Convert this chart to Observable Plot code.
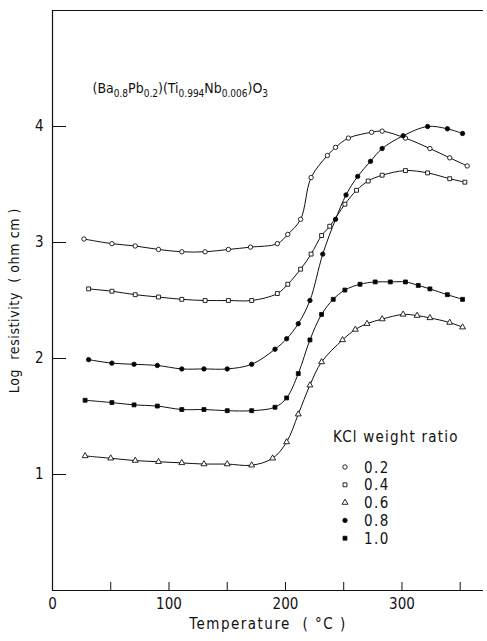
<!DOCTYPE html>
<html><head><meta charset="utf-8">
<script src="https://cdn.jsdelivr.net/npm/d3@7"></script>
<script src="https://cdn.jsdelivr.net/npm/@observablehq/plot@0.6"></script>
<style>
html,body{margin:0;padding:0;background:#fff;}
#chart svg{display:block;}
</style></head><body><div id="chart"></div>
<script>
// KCl weight ratios (legend)
const ratios = ["0.2", "0.4", "0.6", "0.8", "1.0"];

// Temperature (°C) and log resistivity for each KCl ratio
const t02 = [27, 51, 71, 91, 111, 131, 151, 170, 193, 202, 213, 222, 236, 243, 254, 274, 283, 303, 324, 341, 356];
const v02 = [3.03, 2.99, 2.97, 2.94, 2.92, 2.92, 2.94, 2.96, 2.99, 3.07, 3.20, 3.56, 3.75, 3.82, 3.90, 3.95, 3.96, 3.90, 3.81, 3.73, 3.66];

const t04 = [31, 51, 71, 91, 111, 131, 151, 171, 193, 202, 213, 222, 231, 238, 251, 261, 271, 283, 303, 322, 341, 354];
const v04 = [2.60, 2.58, 2.55, 2.53, 2.51, 2.50, 2.50, 2.50, 2.56, 2.64, 2.77, 2.90, 3.06, 3.14, 3.33, 3.45, 3.53, 3.58, 3.62, 3.60, 3.55, 3.52];

const t06 = [28, 50, 71, 91, 111, 130, 150, 171, 189, 201, 211, 221, 231, 249, 260, 270, 283, 301, 313, 324, 341, 352];
const v06 = [1.16, 1.14, 1.12, 1.11, 1.10, 1.09, 1.09, 1.08, 1.14, 1.28, 1.52, 1.77, 1.97, 2.16, 2.25, 2.30, 2.34, 2.38, 2.37, 2.35, 2.31, 2.27];

const t08 = [31, 51, 70, 90, 111, 130, 150, 171, 191, 201, 211, 221, 232, 243, 252, 262, 273, 283, 301, 322, 339, 352];
const v08 = [1.99, 1.96, 1.95, 1.94, 1.91, 1.91, 1.91, 1.95, 2.08, 2.17, 2.30, 2.50, 2.90, 3.20, 3.41, 3.57, 3.70, 3.81, 3.92, 4.00, 3.98, 3.94];

const t10 = [28, 51, 70, 90, 111, 130, 150, 171, 191, 201, 211, 221, 231, 241, 251, 264, 277, 290, 303, 314, 324, 339, 352];
const v10 = [1.64, 1.62, 1.60, 1.59, 1.56, 1.56, 1.55, 1.55, 1.58, 1.66, 1.87, 2.16, 2.38, 2.51, 2.59, 2.64, 2.66, 2.66, 2.66, 2.63, 2.60, 2.55, 2.51];

// Axis ticks
const xTickLabels = [0, 100, 200, 300];
const xTickMarks = [50, 100, 150, 200, 250, 300, 350];
const yTickLabels = [1, 2, 3, 4];

const titleText = "(Ba0.8Pb0.2)(Ti0.994Nb0.006)O3";
const xLabel = "Temperature  ( °C )";
const yLabel = "Log  resistivity  ( ohm cm )";
const legendTitle = "KCl weight ratio";

const seriesDefs = [
  {ratio: ratios[0], t: t02, v: v02, symbol: "circle", fill: "white"},
  {ratio: ratios[1], t: t04, v: v04, symbol: "square", fill: "white"},
  {ratio: ratios[2], t: t06, v: v06, symbol: "triangle", fill: "white"},
  {ratio: ratios[3], t: t08, v: v08, symbol: "circle", fill: "black"},
  {ratio: ratios[4], t: t10, v: v10, symbol: "square", fill: "black"}
];

const FONT = "'Liberation Sans Narrow', 'DejaVu Sans Condensed', 'Liberation Sans', sans-serif";
const W = 487, H = 641, ML = 52, MR = 4, MT = 10, MB = 51;
const R = 2.2;

const marks = [];
for (const s of seriesDefs) {
  const rows = s.t.map((t, i) => ({t, v: s.v[i], ratio: s.ratio}));
  marks.push(Plot.line(rows, {x: "t", y: "v", curve: "catmull-rom", stroke: "#111", strokeWidth: 1}));
  marks.push(Plot.dot(rows, {x: "t", y: "v", symbol: () => s.symbol, r: R, fill: s.fill, stroke: "#111", strokeWidth: 0.9}));
}

const plot = Plot.plot({
  width: W, height: H,
  marginLeft: ML, marginRight: MR, marginTop: MT, marginBottom: MB,
  x: {domain: [0, 370]},
  y: {domain: [0, 5]},
  symbol: {type: "identity"},
  style: {fontFamily: FONT, fontSize: "15px", color: "#111", background: "white"},
  marks: [
    Plot.ruleX([0], {stroke: "#111", strokeWidth: 1.2}),
    Plot.ruleY([0, 5], {stroke: "#111", strokeWidth: 1.2}),
    Plot.tickX(xTickMarks, {x: d => d, insetTop: H - MT - MB - 8, stroke: "#111"}),
    Plot.tickY(yTickLabels, {y: d => d, insetRight: W - ML - MR - 14, stroke: "#111"}),
    Plot.axisX({ticks: xTickLabels, tickSize: 0, tickPadding: 8, label: null, fontSize: 15, tickFormat: d => String(d)}),
    Plot.axisY({ticks: yTickLabels, tickSize: 0, tickPadding: 9, label: null, fontSize: 15, tickFormat: d => String(d)}),
    Plot.text([xLabel], {frameAnchor: "bottom", dy: 38, textAnchor: "middle", fontSize: 15, fill: "#111"}),
    Plot.text([yLabel], {frameAnchor: "left", dx: -38, rotate: -90, textAnchor: "middle", fontSize: 14, fill: "#111"}),
    Plot.text([titleText], {frameAnchor: "top-left", dx: 40, dy: 73, textAnchor: "start", fontSize: 14, fill: "#111"}),
    ...marks
  ]
});

const svg = d3.select(plot);
svg.selectAll("text").each(function() {
  if (this.textContent === xLabel) d3.select(this).style("letter-spacing", "1.5px");
  if (this.textContent === yLabel) d3.select(this).style("letter-spacing", "0.6px");
  if (this.textContent === titleText) {
    const el = d3.select(this);
    el.text(null);
    const parts = [["(Ba", false], ["0.8", true], ["Pb", false], ["0.2", true], [")(Ti", false], ["0.994", true], ["Nb", false], ["0.006", true], [")O", false], ["3", true]];
    parts.forEach(([txt, sub], i) => {
      const prevSub = i > 0 && parts[i - 1][1];
      const ts = el.append("tspan").text(txt).attr("dy", sub ? 4 : (prevSub ? -4 : 0));
      if (sub) ts.attr("font-size", 10);
    });
  }
});

// Legend
const lg = svg.append("g").attr("font-family", FONT).attr("fill", "#111").attr("text-anchor", "start");
lg.append("text").attr("x", 333).attr("y", 442).attr("font-size", 15).style("letter-spacing", "1.2px").text(legendTitle);
seriesDefs.forEach((s, i) => {
  const y = 467 + i * 17.8;
  const type = s.symbol === "circle" ? d3.symbolCircle : s.symbol === "square" ? d3.symbolSquare : d3.symbolTriangle;
  lg.append("path")
    .attr("d", d3.symbol(type, Math.PI * R * R)())
    .attr("transform", `translate(345,${y})`)
    .attr("fill", s.fill).attr("stroke", "#111").attr("stroke-width", 0.9);
  lg.append("text").attr("x", 364).attr("y", y + 5.5).attr("font-size", 15).style("letter-spacing", "1.5px").text(s.ratio);
});

document.getElementById("chart").appendChild(plot);
</script>
</body></html>
